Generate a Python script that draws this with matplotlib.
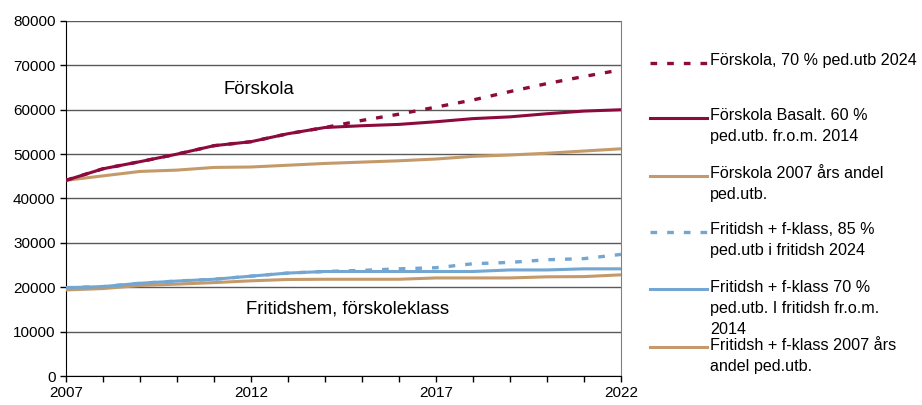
import matplotlib
matplotlib.use("Agg")
import matplotlib.pyplot as plt
from matplotlib.lines import Line2D
from matplotlib.ticker import MultipleLocator

plt.rcParams['font.family'] = ['Liberation Sans', 'DejaVu Sans']

years = list(range(2007, 2023))

# Förskola
fsk_70_2024 = [44100, 46700, 48300, 50000, 51900, 52800, 54600, 56000,
               57600, 59000, 60600, 62200, 64100, 65900, 67500, 69000]
fsk_basalt = [44100, 46700, 48300, 50000, 51900, 52800, 54600, 56000,
              56400, 56700, 57300, 58000, 58400, 59100, 59700, 60000]
fsk_2007 = [44100, 45100, 46100, 46400, 47000, 47100, 47500, 47900,
            48200, 48500, 48900, 49500, 49800, 50200, 50700, 51200]

# Fritidshem + förskoleklass
fri_85_2024 = [19900, 20150, 20900, 21400, 21800, 22500, 23200, 23550,
               23800, 24150, 24400, 25300, 25600, 26200, 26450, 27400]
fri_70 = [19900, 20150, 20900, 21400, 21800, 22500, 23200, 23550,
          23550, 23550, 23550, 23550, 23900, 23900, 24150, 24150]
fri_2007 = [19400, 19700, 20400, 20700, 21050, 21450, 21750, 21800,
            21800, 21800, 22100, 22100, 22100, 22350, 22400, 22800]

legend_labels = [
    "Förskola, 70 % ped.utb 2024",
    "Förskola Basalt. 60 %\nped.utb. fr.o.m. 2014",
    "Förskola 2007 års andel\nped.utb.",
    "Fritidsh + f-klass, 85 %\nped.utb i fritidsh 2024",
    "Fritidsh + f-klass 70 %\nped.utb. I fritidsh fr.o.m.\n2014",
    "Fritidsh + f-klass 2007 års\nandel ped.utb.",
]

red = '#8c0a3c'
blue = '#73a6d0'
tan = '#c49a6a'
dash = (0, (2, 3))

W, H = 922, 405
fig = plt.figure(figsize=(W / 100, H / 100), dpi=100)
ax = fig.add_axes([66 / W, 1 - 376 / H, (621 - 66) / W, (376 - 21) / H])

ax.plot(years, fri_2007, color=tan, lw=2.2, zorder=3)
ax.plot(years, fri_70, color=blue, lw=2.2, zorder=3)
ax.plot(years, fri_85_2024, color=blue, lw=2.4, ls=dash, zorder=4)
ax.plot(years, fsk_2007, color=tan, lw=2.2, zorder=3)
ax.plot(years, fsk_basalt, color=red, lw=2.2, zorder=3)
ax.plot(years, fsk_70_2024, color=red, lw=2.4, ls=dash, zorder=4)

ax.set_xlim(2007, 2022)
ax.set_ylim(0, 80000)
ax.set_xticks([2007, 2012, 2017, 2022])
ax.xaxis.set_minor_locator(MultipleLocator(1))
ax.yaxis.set_major_locator(MultipleLocator(10000))
ax.tick_params(axis='both', labelsize=11, direction='out', length=4, width=1)
ax.tick_params(axis='x', which='minor', direction='out', length=4, width=1)
ax.grid(axis='y', color='#5a5a5a', lw=1)
ax.set_axisbelow(True)
for s in ['left', 'bottom']:
    ax.spines[s].set_color('black')
ax.spines['right'].set_color('#808080')
ax.spines['top'].set_visible(False)

ax.text(2012.2, 64600, "Förskola", fontsize=13.3, ha='center', va='center')
ax.text(2014.6, 15000, "Fritidshem, förskoleklass", fontsize=13.3,
        ha='center', va='center')

# legend drawn by hand to keep the uneven spacing of the original
styles = [(red, dash), (red, '-'), (tan, '-'), (blue, dash), (blue, '-'), (tan, '-')]
ypix = [63, 118, 176, 232, 289, 347]
for (c, ls), yp, lab in zip(styles, ypix, legend_labels):
    yf = 1 - yp / H
    fig.add_artist(Line2D([650 / W, 707 / W], [yf, yf], color=c,
                          lw=2.4 if ls != '-' else 2.2, ls=ls,
                          transform=fig.transFigure))
    fig.text(710 / W, 1 - (yp - 9.5) / H, lab, fontsize=11.6, ha='left', va='top',
             linespacing=1.5)

fig.savefig("out.png", dpi=100)
